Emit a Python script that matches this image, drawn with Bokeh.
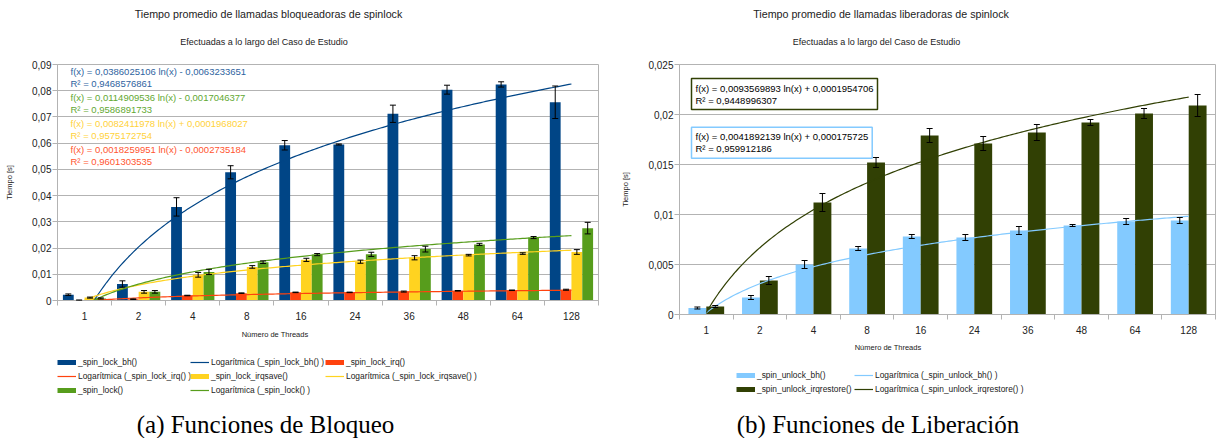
import numpy as np
from bokeh.plotting import figure
from bokeh.models import (ColumnDataSource, Label, Legend, LegendItem, Whisker, TeeHead,
                          FixedTicker, CustomJSTickFormatter, Range1d)
from bokeh.layouts import row, column
from bokeh.embed import file_html
from bokeh.resources import INLINE

# ---------------- data ----------------
threads = ["1", "2", "4", "8", "16", "24", "36", "48", "64", "128"]

# blocking calls (left)
lock_bh = [0.0022, 0.0063, 0.0357, 0.0489, 0.0592, 0.0595, 0.0712, 0.0804, 0.0824, 0.0756]
lock_bh_err = [0.0003, 0.0012, 0.0035, 0.0025, 0.0018, 0.0002, 0.0033, 0.0017, 0.0010, 0.0062]
lock_irq = [0.0001, 0.0005, 0.0019, 0.0028, 0.0031, 0.0031, 0.0034, 0.0037, 0.0039, 0.0041]
lock_irq_err = [0.0001, 0.0001, 0.0001, 0.0001, 0.0001, 0.0001, 0.0002, 0.0001, 0.0001, 0.0002]
lock_irqsave = [0.0011, 0.0033, 0.0098, 0.0128, 0.0155, 0.0148, 0.0163, 0.0173, 0.0179, 0.0185]
lock_irqsave_err = [0.0002, 0.0005, 0.0009, 0.0005, 0.0006, 0.0006, 0.0008, 0.0003, 0.0003, 0.0009]
lock_plain = [0.0008, 0.0033, 0.0109, 0.0146, 0.0175, 0.0176, 0.0196, 0.0214, 0.0240, 0.0276]
lock_plain_err = [0.0002, 0.0005, 0.0010, 0.0005, 0.0004, 0.0008, 0.0011, 0.0004, 0.0004, 0.0022]

# releasing calls (right)
unlock_bh = [0.00065, 0.0017, 0.0050, 0.0066, 0.0078, 0.0077, 0.0084, 0.0089, 0.0093, 0.0094]
unlock_bh_err = [0.0001, 0.0002, 0.0004, 0.0002, 0.0002, 0.0003, 0.0004, 0.0001, 0.0003, 0.0003]
unlock_irqrestore = [0.0008, 0.0034, 0.0112, 0.0152, 0.0179, 0.0171, 0.0182, 0.0192, 0.0201, 0.0209]
unlock_irqrestore_err = [0.0001, 0.0004, 0.0009, 0.0005, 0.0007, 0.0007, 0.0008, 0.0003, 0.0005, 0.0011]

# logarithmic trend lines shown in the chart: (a, b, R^2) for f(x) = a ln(x) + b
trend_lock_bh = (0.0386025106, -0.0063233651, 0.9468576861)
trend_lock_irq = (0.0018259951, -0.0002735184, 0.9601303535)
trend_lock_irqsave = (0.0082411978, 0.0001968027, 0.9575172754)
trend_lock_plain = (0.0114909536, -0.0017046377, 0.9586891733)
trend_unlock_bh = (0.0041892139, 0.000175725, 0.959912186)
trend_unlock_irqrestore = (0.0093569893, 0.0001954706, 0.9448996307)

# ---------------- styling ----------------
FONT = "Liberation Sans"
SERIF = "Liberation Serif"
GRID = "#b3b3b3"
TXT = "#222222"
C_BH, C_IRQ, C_IRQSAVE, C_LOCK = "#004586", "#ff420e", "#ffd320", "#579d1c"
C_UBH, C_UIRQ = "#83caff", "#314004"

pos = np.arange(1, len(threads) + 1)


def comma(v):
    return repr(v).replace(".", ",")


def eq_text(tr):
    a, b, r2 = tr
    sign = "+" if b >= 0 else "-"
    return f"f(x) = {comma(a)} ln(x) {sign} {comma(abs(b))}\nR² = {comma(r2)}"


def make_chart(width, height, bl, br, bt, bb, ymax, ystep):
    p = figure(width=width, height=height, x_range=Range1d(0.5, 10.5), y_range=Range1d(0, ymax),
               output_backend="svg", toolbar_location=None,
               min_border_left=bl, min_border_right=br, min_border_top=bt, min_border_bottom=bb)
    p.outline_line_color = GRID
    p.xgrid.grid_line_color = None
    p.ygrid.grid_line_color = GRID
    n = int(round(ymax / ystep))
    p.yaxis.ticker = FixedTicker(ticks=[round(i * ystep, 6) for i in range(n + 1)])
    p.yaxis.formatter = CustomJSTickFormatter(
        code="return tick == 0 ? '0' : (Math.round(tick*100000)/100000).toString().replace('.', ',');")
    p.xaxis.ticker = FixedTicker(ticks=list(pos), minor_ticks=[i + 0.5 for i in range(len(threads) + 1)])
    p.xaxis.formatter = CustomJSTickFormatter(
        args=dict(labels=threads),
        code="const i = Math.round(tick) - 1; return (i >= 0 && i < labels.length) ? labels[i] : '';")
    for ax in (p.xaxis[0], p.yaxis[0]):
        ax.axis_line_color = GRID
        ax.major_label_text_font = FONT
        ax.major_label_text_font_size = "10px"
        ax.major_label_text_color = TXT
        ax.major_tick_line_color = GRID
        ax.minor_tick_line_color = GRID
    p.yaxis.major_tick_out = 5
    p.yaxis.major_tick_in = 0
    p.yaxis.minor_tick_line_color = None
    p.yaxis.major_label_standoff = 1
    p.yaxis.axis_label = "Tiempo [s]"
    p.yaxis.axis_label_text_font = FONT
    p.yaxis.axis_label_text_font_size = "7.5px"
    p.yaxis.axis_label_text_font_style = "normal"
    p.yaxis.axis_label_text_color = TXT
    p.yaxis.axis_label_standoff = 15
    p.xaxis.major_tick_out = 0
    p.xaxis.major_tick_in = 0
    p.xaxis.minor_tick_out = 5
    p.xaxis.minor_tick_in = 0
    p.xaxis.major_label_standoff = 6
    return p


def text_fig(w, h, bl, br, x_lo, x_hi):
    # helper canvas whose frame lines up with the chart frame; x data = page x, y data = px from top
    f = figure(width=w, height=h, x_range=Range1d(x_lo, x_hi), y_range=Range1d(h, 0),
               output_backend="svg", toolbar_location=None, min_border=0,
               min_border_left=bl, min_border_right=br, min_border_top=0, min_border_bottom=0,
               x_axis_type=None, y_axis_type=None)
    f.outline_line_color = None
    return f


def add_series(p, vals, errs, off, width, color):
    v = np.array(vals)
    e = np.array(errs)
    src = ColumnDataSource(dict(x=pos + off, top=v, upper=v + e, lower=v - e))
    r = p.vbar(x="x", top="top", width=width, source=src, fill_color=color, line_color=None)
    w = Whisker(source=src, base="x", upper="upper", lower="lower", line_color="black", line_width=1,
                upper_head=TeeHead(size=6, line_color="black", line_width=1),
                lower_head=TeeHead(size=6, line_color="black", line_width=1))
    w.level = "overlay"
    p.add_layout(w)
    return r


def add_trend(p, tr, color):
    a, b, _ = tr
    xs = np.linspace(1, len(threads), 200)
    return p.line(xs, a * np.log(xs) + b, line_color=color, line_width=1.2)


def label(p, s, x, y, size, units="data", color=TXT, align="center", baseline="middle", font=FONT, **kw):
    p.add_layout(Label(x=x, y=y, x_units=units, y_units=units, text=s, text_font=font,
                       text_font_size=size, text_color=color, text_align=align,
                       text_baseline=baseline, **kw))


def legend_item(f, h, frame_left, label_text, color, lw, page_x, row_center):
    # swatch renderer for the legend only (no visible data)
    r = f.line(x=np.array([np.nan]), y=np.array([np.nan]), line_color=color, line_width=lw)
    gh = 12
    leg = Legend(items=[LegendItem(label=label_text, renderers=[r])],
                 location=(page_x - frame_left, h - (row_center + gh / 2)),
                 glyph_width=19, glyph_height=gh, label_height=gh, label_standoff=2,
                 padding=0, margin=0, spacing=0, border_line_color=None, background_fill_alpha=0,
                 label_text_font=FONT, label_text_font_size="8.4px", label_text_color=TXT)
    f.add_layout(leg)


# ================= left chart (page x 0..605) =================
WL, BLL, BRL = 605, 57, 7
FLX, FLR, FLB = 57, 598, 301          # page coords: frame left, right, bottom
left = make_chart(WL, 266, BLL, BRL, 8, 21, 0.09, 0.01)
bw = 0.2
add_series(left, lock_bh, lock_bh_err, -0.3, bw, C_BH)
add_series(left, lock_irq, lock_irq_err, -0.1, bw, C_IRQ)
add_series(left, lock_irqsave, lock_irqsave_err, 0.1, bw, C_IRQSAVE)
add_series(left, lock_plain, lock_plain_err, 0.3, bw, C_LOCK)
add_trend(left, trend_lock_bh, C_BH)
add_trend(left, trend_lock_irq, C_IRQ)
add_trend(left, trend_lock_irqsave, C_IRQSAVE)
add_trend(left, trend_lock_plain, C_LOCK)

for tr, col, top in [(trend_lock_bh, "#2e63a0", 66), (trend_lock_plain, "#62a832", 92),
                     (trend_lock_irqsave, "#ffd23a", 118.5), (trend_lock_irq, "#ff5530", 144.5)]:
    label(left, eq_text(tr), 70 - FLX, FLB - top, "9.5px", units="screen", color=col,
          align="left", baseline="top", text_line_height=1.1)

topL = text_fig(WL, 56, BLL, BRL, FLX, FLR)
label(topL, "Tiempo promedio de llamadas bloqueadoras de spinlock", 268, 13, "10.7px")
label(topL, "Efectuadas a lo largo del Caso de Estudio", 263.5, 41, "9px")

HBL, Y0 = 116, 322                    # bottom block spans page y 322..438
botL = text_fig(WL, HBL, BLL, BRL, FLX, FLR)
label(botL, "Número de Threads", 274.5, 333.5 - Y0, "7.5px")
rows_l = [362 - Y0, 375.7 - Y0, 389.7 - Y0]
cols_l = [57, 190, 325]
legend_item(botL, HBL, FLX, "_spin_lock_bh()", C_BH, 5, cols_l[0], rows_l[0])
legend_item(botL, HBL, FLX, "Logarítmica (_spin_lock_bh() )", C_BH, 1.2, cols_l[1], rows_l[0])
legend_item(botL, HBL, FLX, "_spin_lock_irq()", C_IRQ, 5, cols_l[2], rows_l[0])
legend_item(botL, HBL, FLX, "Logarítmica (_spin_lock_irq() )", C_IRQ, 1.2, cols_l[0], rows_l[1])
legend_item(botL, HBL, FLX, "_spin_lock_irqsave()", C_IRQSAVE, 5, cols_l[1], rows_l[1])
legend_item(botL, HBL, FLX, "Logarítmica (_spin_lock_irqsave() )", C_IRQSAVE, 1.2, cols_l[2], rows_l[1])
legend_item(botL, HBL, FLX, "_spin_lock()", C_LOCK, 5, cols_l[0], rows_l[2])
legend_item(botL, HBL, FLX, "Logarítmica (_spin_lock() )", C_LOCK, 1.2, cols_l[1], rows_l[2])
label(botL, "(a) Funciones de Bloqueo", 265, 423.5 - Y0, "25px", font=SERIF, color="black")

# ================= right chart (page x 605..1216) =================
WR, BLR, BRR = 611, 74, 1
FRX, FRR, FRB = 679, 1215, 314
right = make_chart(WR, 280, BLR, BRR, 8, 22, 0.025, 0.005)
bw2 = 1 / 3
add_series(right, unlock_bh, unlock_bh_err, -1 / 6, bw2, C_UBH)
add_series(right, unlock_irqrestore, unlock_irqrestore_err, 1 / 6, bw2, C_UIRQ)
add_trend(right, trend_unlock_bh, C_UBH)
add_trend(right, trend_unlock_irqrestore, C_UIRQ)

label(right, eq_text(trend_unlock_irqrestore), 691 - FRX, FRB - 78, "9.5px", units="screen",
      color="black", align="left", baseline="top", border_line_color=C_UIRQ, border_line_width=1.5,
      background_fill_color="white", padding=4, text_line_height=1.1)
label(right, eq_text(trend_unlock_bh), 691 - FRX, FRB - 126.7, "9.5px", units="screen",
      color="black", align="left", baseline="top", border_line_color=C_UBH, border_line_width=1.5,
      background_fill_color="white", padding=4, text_line_height=1.1)

topR = text_fig(WR, 56, BLR, BRR, FRX, FRR)
label(topR, "Tiempo promedio de llamadas liberadoras de spinlock", 880.5, 13, "10.7px")
label(topR, "Efectuadas a lo largo del Caso de Estudio", 876, 41, "9px")

HBR, Y0R = 102, 336                   # bottom block spans page y 336..438
botR = text_fig(WR, HBR, BLR, BRR, FRX, FRR)
label(botR, "Número de Threads", 887.5, 347 - Y0R, "7.5px")
rows_r = [375 - Y0R, 389.2 - Y0R]
cols_r = [736, 854]
legend_item(botR, HBR, FRX, "_spin_unlock_bh()", C_UBH, 5, cols_r[0], rows_r[0])
legend_item(botR, HBR, FRX, "Logarítmica (_spin_unlock_bh() )", C_UBH, 1.2, cols_r[1], rows_r[0])
legend_item(botR, HBR, FRX, "_spin_unlock_irqrestore()", C_UIRQ, 5, cols_r[0], rows_r[1])
legend_item(botR, HBR, FRX, "Logarítmica (_spin_unlock_irqrestore() )", C_UIRQ, 1.2, cols_r[1], rows_r[1])
label(botR, "(b) Funciones de Liberación", 877.5, 423.5 - Y0R, "25px", font=SERIF, color="black")

layout = row(column(topL, left, botL, spacing=0), column(topR, right, botR, spacing=0), spacing=0)
open("out.html", "w").write(file_html(layout, INLINE))
